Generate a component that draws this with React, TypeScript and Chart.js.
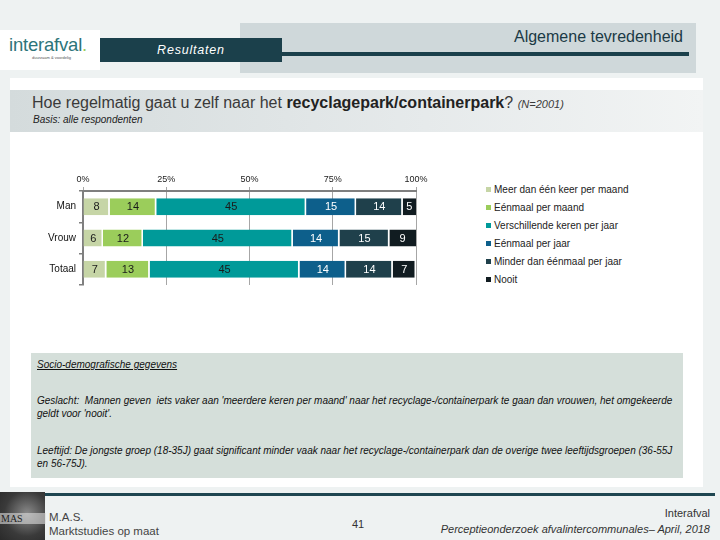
import React, { useEffect, useRef } from "react";
import { Chart, registerables } from "chart.js";

Chart.register(...registerables);

const categories = ["Man", "Vrouw", "Totaal"];
const seriesLabels = [
  "Meer dan één keer per maand",
  "Eénmaal per maand",
  "Verschillende keren per jaar",
  "Eénmaal per jaar",
  "Minder dan éénmaal per jaar",
  "Nooit",
];
const seriesColors = ["#c6d5a6", "#9bcd5b", "#009a99", "#0d5f8b", "#1f404b", "#111c21"];
const labelColors = ["#1a1a1a", "#1a1a1a", "#1a1a1a", "#ffffff", "#ffffff", "#ffffff"];
const meerDanEenKeerPerMaand = [8, 6, 7];
const eenmaalPerMaand = [14, 12, 13];
const verschillendeKerenPerJaar = [45, 45, 45];
const eenmaalPerJaar = [15, 14, 14];
const minderDanEenmaalPerJaar = [14, 15, 14];
const nooit = [5, 9, 7];
const xTicks = [0, 25, 50, 75, 100];

const FONT = "'Liberation Sans', Arial, sans-serif";

const valueLabels = {
  id: "valueLabels",
  afterDatasetsDraw(chart: any) {
    const ctx = chart.ctx;
    ctx.save();
    ctx.font = `11px ${FONT}`;
    ctx.textAlign = "center";
    ctx.textBaseline = "middle";
    chart.data.datasets.forEach((ds: any, i: number) => {
      const meta = chart.getDatasetMeta(i);
      meta.data.forEach((el: any, j: number) => {
        const { x, base, y } = el.getProps(["x", "base", "y"], true);
        const right = Math.min(x, chart.chartArea.right);
        ctx.fillStyle = labelColors[i];
        ctx.fillText(String(ds.data[j]), (right + base) / 2, y + 0.5);
      });
    });
    ctx.restore();
  },
};

function BarChart() {
  const ref = useRef<HTMLCanvasElement | null>(null);
  useEffect(() => {
    if (!ref.current) return;
    const series = [
      meerDanEenKeerPerMaand,
      eenmaalPerMaand,
      verschillendeKerenPerJaar,
      eenmaalPerJaar,
      minderDanEenmaalPerJaar,
      nooit,
    ];
    const chart = new Chart(ref.current, {
      type: "bar",
      data: {
        labels: categories,
        datasets: series.map((d, i) => ({
          label: seriesLabels[i],
          data: d,
          backgroundColor: seriesColors[i],
          borderColor: "#ffffff",
          borderWidth: { left: 0, right: 1.5, top: 0, bottom: 0 },
          borderSkipped: false,
          barPercentage: 1,
          categoryPercentage: 0.54,
        })),
      },
      options: {
        indexAxis: "y",
        animation: false,
        responsive: false,
        devicePixelRatio: 1,
        layout: { padding: { left: 0, top: 0, right: 64, bottom: 15 } },
        plugins: { legend: { display: false }, tooltip: { enabled: false } },
        scales: {
          x: {
            position: "top",
            stacked: true,
            min: 0,
            max: 100,
            afterFit: (s: any) => {
              s.height = 31;
            },
            afterBuildTicks: (s: any) => {
              s.ticks = xTicks.map((v) => ({ value: v }));
            },
            ticks: {
              callback: (v: any) => `${v}%`,
              font: { family: FONT, size: 9 },
              color: "#222",
              padding: 2,
              maxRotation: 0,
            },
            grid: { color: "#a6a6a6", lineWidth: 1, tickLength: 4 },
            border: { display: true, color: "#7f7f7f", width: 2 },
          },
          y: {
            stacked: true,
            afterFit: (s: any) => {
              s.width = 83;
            },
            ticks: {
              font: { family: FONT, size: 10 },
              color: "#111",
              padding: 3,
            },
            grid: {
              display: true,
              drawOnChartArea: false,
              drawTicks: true,
              tickLength: 4,
              color: "#7f7f7f",
              lineWidth: 1.5,
            },
            border: { display: true, color: "#7f7f7f", width: 2 },
          },
        },
      },
      plugins: [valueLabels],
    });
    return () => chart.destroy();
  }, []);
  return (
    <canvas
      ref={ref}
      width={480}
      height={140}
      style={{ position: "absolute", left: 0, top: 160, width: 480, height: 140 }}
    />
  );
}

export default function App() {
  const abs = (s: React.CSSProperties): React.CSSProperties => ({ position: "absolute", ...s });
  return (
    <div
      style={{
        position: "fixed",
        left: 0,
        top: 0,
        width: 720,
        height: 540,
        background: "#eef2f2",
        fontFamily: FONT,
        overflow: "hidden",
      }}
    >
      {/* header */}
      <div style={abs({ left: 240, top: 23, width: 456, height: 50, background: "#cfd8da" })} />
      <div
        style={abs({
          left: 300,
          top: 27,
          width: 383,
          textAlign: "right",
          fontSize: 16,
          color: "#1b3a45",
          lineHeight: "20px",
        })}
      >
        Algemene tevredenheid
      </div>
      <div style={abs({ left: 282, top: 52, width: 407, height: 4, background: "#1b404b" })} />
      <div style={abs({ left: 0, top: 30, width: 100, height: 40, background: "#ffffff" })} />
      <div
        style={abs({
          left: 9,
          top: 35,
          fontSize: 18.5,
          color: "#2d7479",
          letterSpacing: -0.2,
          lineHeight: "20px",
        })}
      >
        interafval<span style={{ color: "#9bcd5b" }}>.</span>
      </div>
      <div style={abs({ left: 32, top: 55, fontSize: 4, color: "#555", lineHeight: "5px" })}>
        duurzaam &amp; voordelig
      </div>
      <div style={abs({ left: 100, top: 38, width: 182, height: 24, background: "#1b404b" })} />
      <div
        style={abs({
          left: 100,
          top: 41,
          width: 182,
          textAlign: "center",
          color: "#ffffff",
          fontStyle: "italic",
          fontSize: 12.5,
          letterSpacing: 0.8,
          lineHeight: "18px",
        })}
      >
        Resultaten
      </div>

      {/* main white panel */}
      <div style={abs({ left: 10, top: 78, width: 693, height: 409, background: "#ffffff" })} />
      <div
        style={abs({
          left: 10,
          top: 90,
          width: 693,
          height: 42,
          background: "linear-gradient(to right, #d4dbdc, #e6eaeb 60%, #f2f4f4)",
        })}
      />
      <div style={abs({ left: 32, top: 93, fontSize: 16, color: "#3a3a3a", lineHeight: "19px", whiteSpace: "nowrap" })}>
        Hoe regelmatig gaat u zelf naar het <b style={{ color: "#222" }}>recyclagepark/containerpark</b>?{" "}
        <i style={{ fontSize: 11 }}>(N=2001)</i>
      </div>
      <div style={abs({ left: 33, top: 114, fontSize: 10, fontStyle: "italic", color: "#222", lineHeight: "12px" })}>
        Basis: alle respondenten
      </div>

      <BarChart />

      {/* legend */}
      <div style={abs({ left: 486, top: 180, fontSize: 10, color: "#222" })}>
        {seriesLabels.map((l, i) => (
          <div
            key={l}
            style={{ display: "flex", alignItems: "center", height: 18, whiteSpace: "nowrap" }}
          >
            <span
              style={{
                display: "inline-block",
                width: 5,
                height: 5,
                background: seriesColors[i],
                marginRight: 3,
              }}
            />
            {l}
          </div>
        ))}
      </div>

      {/* notes box */}
      <div
        style={abs({
          left: 31,
          top: 353,
          width: 652,
          height: 125,
          background: "#d5dfda",
        })}
      />
      <div
        style={abs({
          left: 37,
          top: 359,
          width: 645,
          fontSize: 10,
          fontStyle: "italic",
          color: "#111",
          lineHeight: "12.5px",
          whiteSpace: "nowrap",
        })}
      >
        <div style={{ textDecoration: "underline" }}>Socio-demografische gegevens</div>
        <div style={{ marginTop: 23.5 }}>
          Geslacht:&nbsp; Mannen geven&nbsp; iets vaker aan 'meerdere keren per maand' naar het recyclage-/containerpark te gaan dan vrouwen, het omgekeerde
          <br />
          geldt voor 'nooit'.
        </div>
        <div style={{ marginTop: 25 }}>
          Leeftijd: De jongste groep (18-35J) gaat significant minder vaak naar het recyclage-/containerpark dan de overige twee leeftijdsgroepen (36-55J
          <br />
          en 56-75J).
        </div>
      </div>

      {/* footer */}
      <div style={abs({ left: 35, top: 493, width: 680, height: 3, background: "#1f4651" })} />
      <div
        style={abs({
          left: 0,
          top: 492,
          width: 45,
          height: 48,
          background: "radial-gradient(circle at 60% 45%, #8a8a8a, #3a3a3a 60%, #2a2a2a)",
        })}
      />
      <div
        style={abs({
          left: 0,
          top: 513,
          width: 45,
          height: 11,
          background: "rgba(220,220,220,0.6)",
          fontSize: 10,
          color: "#222",
          lineHeight: "11px",
          fontFamily: "'Liberation Serif', serif",
          textAlign: "left",
          paddingLeft: 1,
        })}
      >
        MAS
      </div>
      <div style={abs({ left: 49, top: 510, fontSize: 11.5, color: "#444", lineHeight: "14px" })}>
        M.A.S.
        <br />
        Marktstudies op maat
      </div>
      <div style={abs({ left: 352, top: 517, fontSize: 11, color: "#333", lineHeight: "14px" })}>41</div>
      <div
        style={abs({
          left: 380,
          top: 505,
          width: 330,
          textAlign: "right",
          fontSize: 11,
          color: "#333",
          lineHeight: "16px",
        })}
      >
        Interafval
        <br />
        <i>Perceptieonderzoek afvalintercommunales– April, 2018</i>
      </div>
    </div>
  );
}
